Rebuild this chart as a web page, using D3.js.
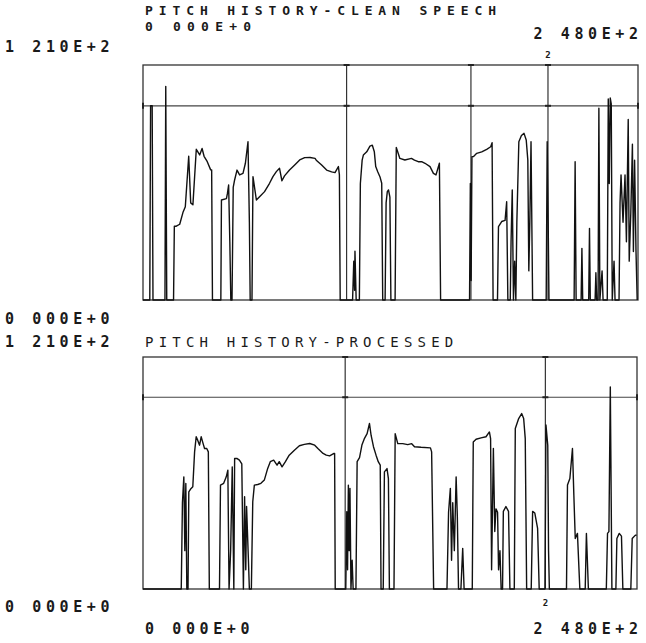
<!DOCTYPE html>
<html>
<head>
<meta charset="utf-8">
<script src="https://cdn.jsdelivr.net/npm/d3@7"></script>
<style>
  body { margin: 0; background: #fff; }
  svg { display: block; }
  .lbl { font-family: "DejaVu Sans Mono", monospace; font-size: 15px; font-weight: bold; letter-spacing: 4.6px; fill: #1a1a1a; }
</style>
</head>
<body>
<svg id="chart" width="646" height="643"></svg>
<script>
// pitch history, frame number / pitch value
const cleanFrames = [0,3.4,3.8,4.6,5.0,11.0,11.4,11.9,15.3,15.7,16.7,18.4,20,21.2,22.9,23.9,25,26.7,28.4,29.6,30.6,32.2,33.9,34.4,34.8,
  39.0,39.3,41.8,42.3,42.9,43.5,44.0,44.6,45.2,45.9,47.1,48.4,50.1,51.3,52.6,53.3,53.7,54.6,55.1,56.8,58.4,60.9,63.4,65.1,66.8,68.4,69.6,70.9,73.4,76,78.5,81,
  83.7,86.2,86.8,89.5,92,94.5,96.2,97.9,98.4,98.8,105,105.6,106.0,106.2,106.8,108.4,108.9,109.8,110.4,112.1,113.7,114.9,115.9,116.6,117.6,118.7,119.6,120.1,
  121.3,121.8,122.4,123,123.7,124.2,126.3,126.9,128.7,131.2,134.5,136,137.9,139.6,141.3,143.8,145.5,146.8,148.5,149.1,163.6,164.0,164.4,164.8,165.5,167.2,169.7,172.2,174.2,174.9,175.4,
  177.6,178.1,179.7,181.4,182.2,182.8,184.0,184.4,185.0,185.6,186.2,186.8,187.3,188.3,189.6,190.9,192,192.8,193.3,193.8,194.4,195.2,202.0,202.5,203.0,203.4,
  216.0,216.5,217.0,219.5,219.9,220.3,223.3,223.7,224.1,226.5,226.9,227.3,228.0,228.4,228.9,230.0,230.5,232.6,233.1,233.6,234.1,234.6,235.1,236.0,236.5,
  238.5,239.0,239.5,240.5,241.5,242.2,243.1,243.6,244.4,245.2,245.7,246.3,247.0,247.6];
const cleanPitch = [0,0,100,100,0,0,110,0,0,38,38,39,45,48,74,50,49,77.6,74.7,78,74,71.2,67,67,0,
  0,51.5,52.2,54.9,59.2,30,0,0,58,61.8,66.9,64.4,65.2,70.4,81.5,40,0,0,63.5,51.5,53.2,55.8,60.1,63.5,66.1,67.8,61.4,63.9,66.9,69.5,72.1,73.3,
  73.4,72.9,72,69.5,66.9,66,65.6,68.7,64.4,0,0,20,5,25.1,0,0,60,72,74.6,76.3,79.2,79.7,76.3,68.7,66,63.5,60.1,0,
  0,50,55.8,56.7,53,0,0,78.5,72.9,72.1,72.9,72,71.2,71.2,70.4,68.7,65.2,64.4,70.4,0,0,60,10,73.8,73.8,75.5,76.3,77.6,78.9,81,0,
  0,37.8,40.4,41,50.6,0,0,30,56.6,0,20,0,40,81.5,84.7,85.8,82.4,72,15,40,81.5,0,0,81.5,40,0,
  0,71.2,0,0,26.6,0,0,36.9,0,0,14,0,0,98.7,0,15,0,0,103.5,60,104,101,0,20,0,
  0,50,64.4,40,64.4,30,92.9,20,45,80.2,25,72,25,0];

const procFrames = [0,19.2,19.8,20.5,21.0,21.5,22.0,22.6,23.0,23.8,25.0,25.9,26.7,27.5,28.4,29.2,30.0,30.9,32.0,32.8,33.3,
  38.4,38.9,40.5,41.8,42.6,43.2,44.0,44.8,45.6,46.0,47.1,48.4,49.6,50.4,51.0,51.6,52.0,52.9,53.4,54.4,55.1,55.9,57.6,59.2,60.9,62.6,63.9,65.6,67.3,68.4,69.8,71.5,73.4,76,78.5,81,
  83.7,86.2,87.8,90.4,92,93.7,95.9,96.2,96.5,101.8,102.3,102.7,103.1,103.5,103.9,104.4,105.0,105.5,106.9,107.5,108.7,109.9,111.2,112.5,113.7,114.5,115.7,117,118.1,119.1,119.5,
  120.6,121.2,122.5,123.2,123.7,126.0,126.6,127.9,130.4,132.9,134.9,136.3,139.6,144.3,144.9,145.9,152.6,153.4,154.3,154.9,155.5,156.3,157.2,157.8,158.4,159.6,160.5,161.2,
  165.3,165.8,167.2,169.7,172.2,173.9,174.5,175.0,175.9,176.6,177.2,178.0,178.5,179.2,179.8,180.5,180.9,182.2,183.5,184.2,186.4,186.9,188.6,190.1,191.1,191.9,192.6,
  194.9,195.6,196.7,198.1,198.9,201.8,202.3,203.2,203.6,204.0,212.6,213.1,214.3,215.6,216.3,217.0,218.1,219.3,222.0,222.6,223.6,
  232.6,233.2,233.9,234.6,235.4,237.4,237.9,239.1,240.2,240.9,244.9,245.6,247.2,247.8];
const procPitch = [0,0,45,58.5,20,55,0,0,50.7,52,53.3,71.5,79.4,77.5,75,79.4,76.5,73.3,73.3,71.5,0,
  0,54.2,55.1,58.5,62,0,20,63.7,0,68.1,68.1,67.2,65.2,0,48.1,10,43,15.9,0,0,45.5,54.2,54.5,55.1,56.8,62.9,66.4,67.2,64.6,66.4,63.7,66.4,69.8,72.4,74.7,75.4,
  75.9,75,73.3,70.7,69.8,69.4,70.7,70.7,0,0,40.3,10,54.2,20,52.5,0,15,0,0,66.4,68.5,75.1,78.6,81,86.3,80.2,74.2,69.8,66.4,64.6,0,
  0,61.1,62.8,57.6,0,0,81,75.8,75.8,75.3,75.8,74.2,73.9,73.6,71.5,0,0,40,52.5,15,45,20,58.5,38,0,0,21.2,0,
  0,76.7,78.1,78.8,79.4,81.9,78.4,10,73.3,30,41.8,40,10,20,0,0,40.5,43,40.5,0,0,83.7,88.9,91.5,88.9,78.4,0,
  0,40.5,39.6,31.6,0,0,85.5,75,20,0,0,54.2,57.6,73.3,48.9,26.3,29,0,0,29,0,
  0,29,29.9,105.4,0,0,26.3,29,27.6,0,0,26.3,28.1,28];

const refLevel = 100;                 // horizontal reference line
const cleanMarks = [102, 164.3, 202.9]; // vertical marker lines
const procMarks = [101.5, 202];
const xDomain = [0, 248];
const yDomain = [0, 121];

const svg = d3.select("#chart");
const spacing = 4.6; // trailing letter-spacing, for right aligned labels

function drawPanel(p) {
  const x = d3.scaleLinear().domain(xDomain).range([p.left, p.right]);
  const y = d3.scaleLinear().domain(yDomain).range([p.bottom, p.top]);
  const g = svg.append("g");

  // frame
  g.append("rect")
    .attr("x", p.left).attr("y", p.top)
    .attr("width", p.right - p.left).attr("height", p.bottom - p.top)
    .attr("fill", "none").attr("stroke", "#333").attr("stroke-width", 1.3);

  g.append("line")
    .attr("x1", p.left).attr("x2", p.right)
    .attr("y1", y(refLevel)).attr("y2", y(refLevel))
    .attr("stroke", "#444").attr("stroke-width", 1.2);

  p.marks.forEach((m) => {
    g.append("line")
      .attr("x1", x(m)).attr("x2", x(m))
      .attr("y1", p.top).attr("y2", p.bottom)
      .attr("stroke", "#333").attr("stroke-width", 1.2);
    // little crosses where the marker meets the reference line and frame
    [y(refLevel), p.top].forEach((yy) => {
      g.append("line").attr("x1", x(m) - 3).attr("x2", x(m) + 3)
        .attr("y1", yy).attr("y2", yy).attr("stroke", "#222").attr("stroke-width", 2);
    });
  });
  [p.left, p.right].forEach((xx) => {
    g.append("line").attr("x1", xx).attr("x2", xx)
      .attr("y1", y(refLevel) - 3).attr("y2", y(refLevel) + 3)
      .attr("stroke", "#222").attr("stroke-width", 2);
  });

  const pts = p.frames.map((f, i) => [f, p.pitch[i]]);
  const line = d3.line().x((d) => x(d[0])).y((d) => y(d[1]));
  g.append("path")
    .attr("d", line(pts))
    .attr("fill", "none")
    .attr("stroke", "#111")
    .attr("stroke-width", 1.4)
    .attr("stroke-linejoin", "round");

  return x;
}

const xTop = drawPanel({ left: 143, right: 638, top: 65, bottom: 300,
  frames: cleanFrames, pitch: cleanPitch, marks: cleanMarks });
const xBot = drawPanel({ left: 143, right: 637, top: 357, bottom: 589,
  frames: procFrames, pitch: procPitch, marks: procMarks });

function label(txt, x, y, anchor, extra) {
  const t = svg.append("text").attr("class", "lbl")
    .attr("x", x).attr("y", y).attr("text-anchor", anchor || "start").text(txt);
  if (extra) extra(t);
  return t;
}
const small = (t) => t.style("font-size", "9px").style("letter-spacing", "0");

// top panel labels
label("PITCH HISTORY-CLEAN SPEECH", 145, 15, "start", (t) => t.style("font-size", "13px").style("letter-spacing", "5.9px"));
label("0 000E+0", 145, 30.5, "start", (t) => t.style("font-size", "13px").style("letter-spacing", "6.2px"));
label("2 480E+2", 638 + spacing, 38.5, "end");
label("1 210E+2", 5, 51.5);
label("2", xTop(cleanMarks[2]), 58, "middle", small);
label("0 000E+0", 5, 323.5);

// bottom panel labels
label("1 210E+2", 5, 347);
label("PITCH HISTORY-PROCESSED", 145, 347, "start",
  (t) => t.style("font-weight", "normal").style("font-size", "14px").style("letter-spacing", "5.2px"));
label("2", xBot(procMarks[1]), 606, "middle", small);
label("0 000E+0", 5, 612);
label("0 000E+0", 145, 634);
label("2 480E+2", 638 + spacing, 634, "end");
</script>
</body>
</html>
